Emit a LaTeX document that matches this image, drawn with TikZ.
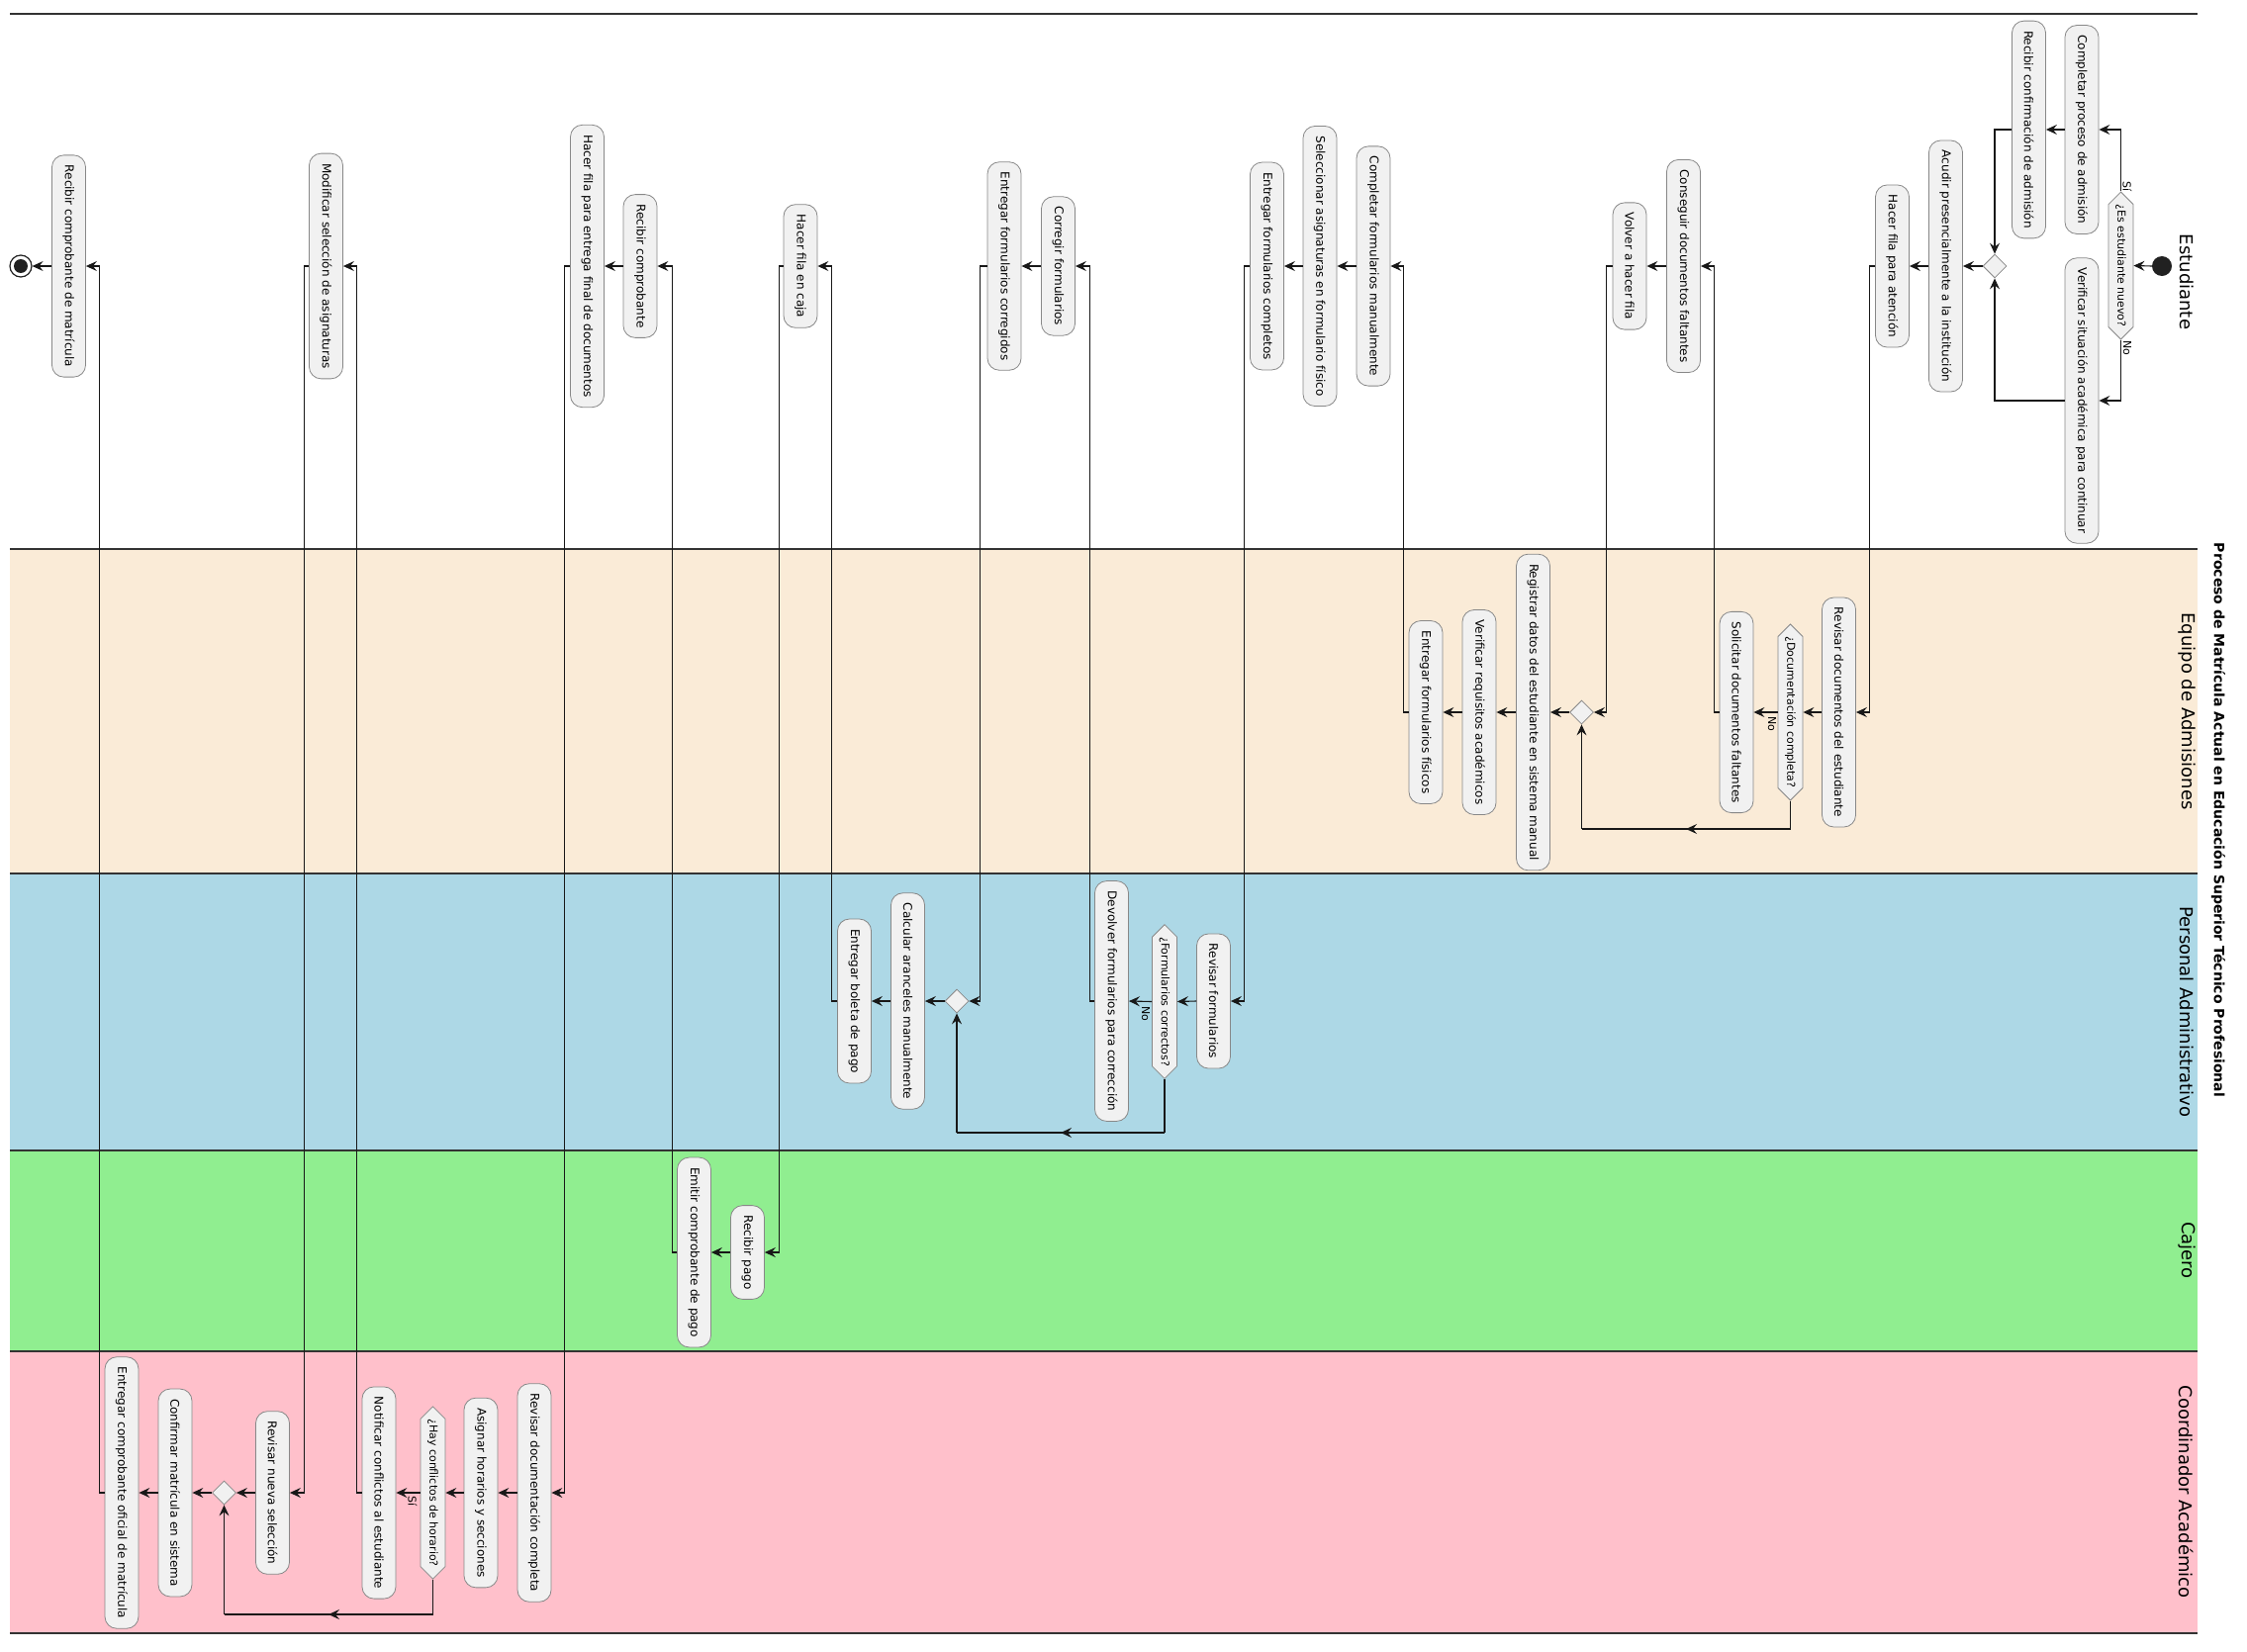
\documentclass[tikz,border=0pt]{standalone}
\usepackage{fontspec}
\setmainfont{DejaVu Sans}
\usetikzlibrary{shapes.geometric,shapes.symbols,arrows.meta,decorations.markings}
\definecolor{actfill}{HTML}{F1F1F1}
\definecolor{actdraw}{HTML}{888888}
\definecolor{lnk}{HTML}{181818}
\definecolor{laneA}{HTML}{FAEBD7}
\definecolor{laneB}{HTML}{ADD8E6}
\definecolor{laneC}{HTML}{90EE90}
\definecolor{laneD}{HTML}{FFC0CB}
\begin{document}
\begin{tikzpicture}[x=1pt,y=-1pt,
  act/.style={draw=actdraw, fill=actfill, line width=0.8pt, rounded corners=12pt, rotate=-90, minimum height=34pt, inner xsep=10pt, inner ysep=0pt, font=\fontsize{12}{14}\selectfont},
  dec/.style={draw=actdraw, fill=actfill, line width=0.8pt, shape=signal, signal to=east and west, signal pointer angle=90, rotate=-90, minimum height=25pt, inner xsep=0pt, inner ysep=0pt, font=\fontsize{11}{13}\selectfont},
  mrg/.style={draw=actdraw, fill=actfill, line width=0.8pt, diamond, minimum size=24pt, inner sep=0pt},
  lbl/.style={rotate=-90, font=\fontsize{11}{13}\selectfont, inner sep=0pt},
  flow/.style={draw=lnk, line width=1.1pt, -{Stealth[length=11pt,width=10pt,inset=4pt]}},
  seg/.style={draw=lnk, line width=1.1pt},
  midarr/.style={postaction={decorate}, decoration={markings, mark=at position 0.5 with {\arrow{Stealth[length=11pt,width=10pt,inset=4pt]}}}},
  lanetitle/.style={rotate=-90, font=\fontsize{18}{22}\selectfont},
  laneline/.style={draw=black!80, line width=1.4pt},
]
\useasboundingbox (0,0) rectangle (2271,1670);
% lanes
\fill[laneA] (10,555) rectangle (2221,883);
\fill[laneB] (10,883) rectangle (2221,1163);
\fill[laneC] (10,1163) rectangle (2221,1366);
\fill[laneD] (10,1366) rectangle (2221,1651);
\foreach \yy in {14,555,883,1163,1366,1651} {\draw[laneline] (10,\yy) -- (2221,\yy);}
\node[lanetitle] (tE) at (2210,285) {Estudiante};
\node[lanetitle] (tA) at (2210,719) {Equipo de Admisiones};
\node[lanetitle] (tP) at (2210,1023) {Personal Administrativo};
\node[lanetitle] (tC) at (2210,1264) {Cajero};
\node[lanetitle] (tK) at (2210,1508) {Coordinador Académico};
\node[rotate=-90, font=\fontsize{14}{17}\selectfont\bfseries] (title) at (2242,829) {Proceso de Matrícula Actual en Educación Superior Técnico Profesional};

% Estudiante
\node[circle, fill=black!87, minimum size=20pt, inner sep=0pt] (start) at (2185,269) {};
\node[dec] (d0) at (2143.5,268.5) {¿Es estudiante nuevo?};
\node[act] (a1) at (2104,131) {Completar proceso de admisión};
\node[act] (a2) at (2050.5,131) {Recibir confirmación de admisión};
\node[act] (a3) at (2104,405) {Verificar situación académica para continuar};
\node[mrg] (m0) at (2016,269) {};
\node[act] (a4) at (1966.5,269) {Acudir presencialmente a la institución};
\node[act] (a5) at (1912.5,269) {Hacer fila para atención};
\node[act] (a6) at (1701.5,269) {Conseguir documentos faltantes};
\node[act] (a7) at (1647,269) {Volver a hacer fila};
\node[act] (a8) at (1388,269) {Completar formularios manualmente};
\node[act] (a9) at (1334,269) {Seleccionar asignaturas en formulario físico};
\node[act] (a10) at (1280.5,269) {Entregar formularios completos};
\node[act] (a11) at (1069.5,269) {Corregir formularios};
\node[act] (a12) at (1015,269) {Entregar formularios corregidos};
\node[act] (a13) at (809,269) {Hacer fila en caja};
\node[act] (a14) at (647,269) {Recibir comprobante};
\node[act] (a15) at (593.5,269) {Hacer fila para entrega final de documentos};
\node[act] (a16) at (329.5,269) {Modificar selección de asignaturas};
\node[act] (a17) at (69.5,269) {Recibir comprobante de matrícula};
\node[circle, draw=black!87, line width=1.2pt, fill=white, minimum size=22pt, inner sep=0pt] (end) at (21,269) {};
\fill[black!87] (end.center) circle (7);

% Admisiones
\node[act] (b1) at (1858.5,720) {Revisar documentos del estudiante};
\node[dec] (d1) at (1809.5,720) {¿Documentación completa?};
\node[act] (b2) at (1755,720) {Solicitar documentos faltantes};
\node[mrg] (m1) at (1598.5,720) {};
\node[act] (b3) at (1549.5,720) {Registrar datos del estudiante en sistema manual};
\node[act] (b4) at (1495,720) {Verificar requisitos académicos};
\node[act] (b5) at (1441,720) {Entregar formularios físicos};

% Personal Administrativo
\node[act] (c1) at (1226.5,1012) {Revisar formularios};
\node[dec] (d2) at (1177,1012.5) {¿Formularios correctos?};
\node[act] (c2) at (1123.5,1012) {Devolver formularios para corrección};
\node[mrg] (m2) at (967,1012) {};
\node[act] (c3) at (917.5,1012) {Calcular aranceles manualmente};
\node[act] (c4) at (863.5,1012) {Entregar boleta de pago};

% Cajero
\node[act] (e1) at (755.5,1266) {Recibir pago};
\node[act] (e2) at (701.5,1266) {Emitir comprobante de pago};

% Coordinador
\node[act] (f1) at (540,1509) {Revisar documentación completa};
\node[act] (f2) at (486,1509) {Asignar horarios y secciones};
\node[dec] (d3) at (437.5,1509) {¿Hay conflictos de horario?};
\node[act] (f3) at (383,1509) {Notificar conflictos al estudiante};
\node[act] (f4) at (275.5,1509) {Revisar nueva selección};
\node[mrg] (m3) at (226.5,1509) {};
\node[act] (f5) at (177,1509) {Confirmar matrícula en sistema};
\node[act] (f6) at (123,1509) {Entregar comprobante oficial de matrícula};

% labels
\node[lbl] (l0) at (2150,189) {Sí};
\node[lbl] (l1) at (2150,352) {No};
\node[lbl] (l2) at (1791,732) {No};
\node[lbl] (l3) at (1158,1025) {No};
\node[lbl] (l4) at (417,1518) {Sí};

% connectors
\draw[flow] (start.west) -- (d0.north);
\draw[flow] (d0.west) |- (a1.north);
\draw[flow] (d0.east) |- (a3.north);
\draw[flow] (a1.south) -- (a2.north);
\draw[flow] (a2.south) -| (m0.north);
\draw[flow] (a3.south) -| (m0.south);
\draw[flow] (m0.west) -- (a4.north);
\draw[flow] (a4.south) -- (a5.north);
\draw[flow] (a5.south) -- ++(-6,0) |- (b1.north);
\draw[flow] (b1.south) -- (d1.north);
\draw[flow] (d1.south) -- (b2.north);
\draw[flow] (b2.south) -- ++(-5,0) |- (a6.north);
\draw[flow] (a6.south) -- (a7.north);
\draw[flow] (a7.south) -- ++(-6.5,0) |- (m1.east);
\coordinate (k1) at (1598.5,838);
\draw[seg] (d1.east) -- (d1.east |- k1);
\draw[seg, midarr] (d1.east |- k1) -- (k1);
\draw[flow] (k1) -- (m1.south);
\draw[flow] (m1.west) -- (b3.north);
\draw[flow] (b3.south) -- (b4.north);
\draw[flow] (b4.south) -- (b5.north);
\draw[flow] (b5.south) -- ++(-5,0) |- (a8.north);
\draw[flow] (a8.south) -- (a9.north);
\draw[flow] (a9.south) -- (a10.north);
\draw[flow] (a10.south) -- ++(-6,0) |- (c1.north);
\draw[flow] (c1.south) -- (d2.north);
\draw[flow] (d2.south) -- (c2.north);
\draw[flow] (c2.south) -- ++(-5,0) |- (a11.north);
\draw[flow] (a11.south) -- (a12.north);
\draw[flow] (a12.south) -- ++(-7.5,0) |- (m2.east);
\coordinate (k2) at (967,1145);
\draw[seg] (d2.east) -- (d2.east |- k2);
\draw[seg, midarr] (d2.east |- k2) -- (k2);
\draw[flow] (k2) -- (m2.south);
\draw[flow] (m2.west) -- (c3.north);
\draw[flow] (c3.south) -- (c4.north);
\draw[flow] (c4.south) -- ++(-6,0) |- (a13.north);
\draw[flow] (a13.south) -- ++(-4,0) |- (e1.north);
\draw[flow] (e1.south) -- (e2.north);
\draw[flow] (e2.south) -- ++(-5,0) |- (a14.north);
\draw[flow] (a14.south) -- (a15.north);
\draw[flow] (a15.south) -- ++(-6,0) |- (f1.north);
\draw[flow] (f1.south) -- (f2.north);
\draw[flow] (f2.south) -- (d3.north);
\draw[flow] (d3.south) -- (f3.north);
\draw[flow] (f3.south) -- ++(-5,0) |- (a16.north);
\draw[flow] (a16.south) -- ++(-5,0) |- (f4.north);
\draw[flow] (f4.south) -- (m3.east);
\coordinate (k3) at (226.5,1632);
\draw[seg] (d3.east) -- (d3.east |- k3);
\draw[seg, midarr] (d3.east |- k3) -- (k3);
\draw[flow] (k3) -- (m3.south);
\draw[flow] (m3.west) -- (f5.north);
\draw[flow] (f5.south) -- (f6.north);
\draw[flow] (f6.south) -- ++(-5,0) |- (a17.north);
\draw[flow] (a17.south) -- (end.east);
\end{tikzpicture}
\end{document}
